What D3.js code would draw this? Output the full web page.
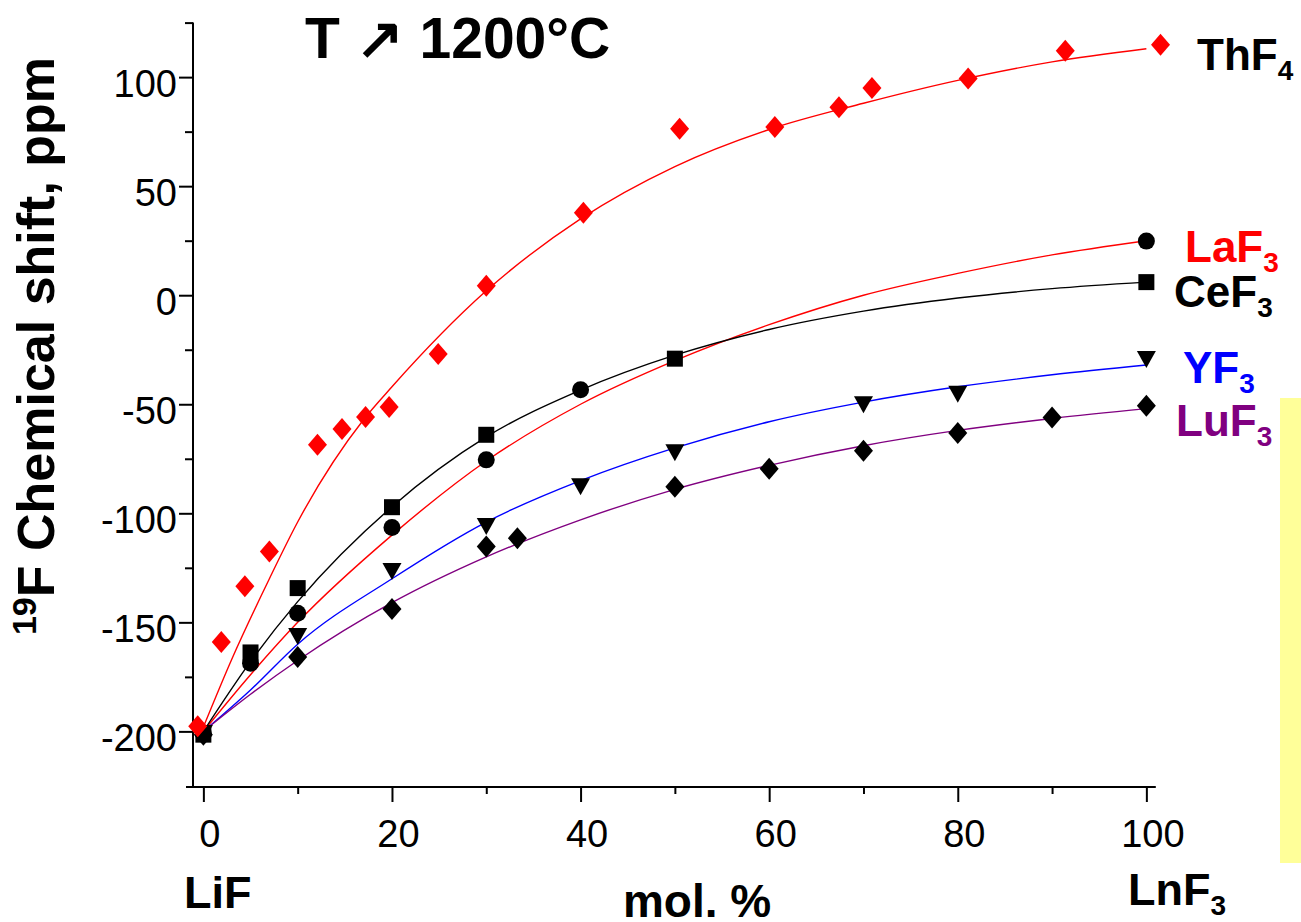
<!DOCTYPE html>
<html>
<head>
<meta charset="utf-8">
<script src="https://cdn.jsdelivr.net/npm/d3@7"></script>
<style>
body { margin: 0; background: #fff; }
svg { display: block; }
</style>
</head>
<body>
<div id="grafica"></div>
<script>
// measured points (x = mol.% LnF3, y = 19F shift in ppm)
var thX = [-0.6, 1.9, 4.4, 7.0, 12.1, 14.7, 17.2, 19.7, 24.9, 30.0, 40.3, 50.5, 60.6, 67.4, 70.9, 81.1, 91.4, 101.5];
var thY = [-197.7, -159, -133.5, -117.5, -68.6, -61.4, -55.9, -51.3, -26.9, 4.3, 37.8, 76.3, 77.1, 86.2, 95.0, 99.4, 112.1, 114.8];
var laX = [0, 5, 10, 20, 30, 40, 100];
var laY = [-201, -168.7, -145.8, -106.5, -75.5, -43.3, 24.8];
var ceX = [0, 5, 10, 20, 30, 50, 100];
var ceY = [-201.5, -163.8, -134.3, -97.2, -64.0, -29.1, 6.0];
var yfX = [0, 10, 20, 30, 40, 50, 70, 80, 100];
var yfY = [-201, -156.5, -126.7, -106, -87.8, -72.2, -50.2, -45.4, -29.5];
var luX = [0, 10, 20, 30, 33.3, 50, 60, 70, 80, 90, 100];
var luY = [-201.5, -165.9, -143.9, -115.2, -111.4, -87.8, -79.6, -71.3, -63.2, -56.1, -50.7];

// fitted curves
var thFitX = [0, 3, 7, 10, 17, 20, 30, 40, 50, 60, 70, 80, 90, 100];
var thFitY = [-198, -167, -130, -104, -57, -42, 2, 35, 59, 76, 88, 98.5, 107, 113];
var fitX = [0, 5, 10, 20, 30, 40, 50, 60, 70, 80, 90, 100];
var laFit = [-200, -174, -150, -110, -76, -50, -30, -13.5, 0, 10, 18.5, 25];
var ceFit = [-200, -168, -140.5, -97, -65, -43.5, -27.5, -15.7, -7.3, -1.3, 3, 6];
var yfFit = [-200, -181, -160, -130, -104, -85, -70, -58, -49, -42, -36.5, -32];
var luFit = [-200, -183, -167.5, -141, -120, -103, -89, -78, -69, -62, -56.5, -52];

var xMajor = [0, 20, 40, 60, 80, 100];
var xMinor = [10, 30, 50, 70, 90];
var yMajor = [-200, -150, -100, -50, 0, 50, 100];
var yMinor = [-175, -125, -75, -25, 25, 75, 125];

var nombres = ['ThF', 'LaF', 'CeF', 'YF', 'LuF'];
var subs = ['4', '3', '3', '3', '3'];

var fuente = "'Liberation Sans', Arial, sans-serif";
var rojo = "#ff0000";
var azul = "#0000ff";
var morado = "#800080";

var svg = d3.select("#grafica")
	.append("svg")
	.attr("width", 1301)
	.attr("height", 922)
	.style("font-family", fuente);

var x = d3.scaleLinear().domain([-1.1, 101]).range([193, 1155.8]);
var y = d3.scaleLinear().domain([-225.5, 125]).range([787, 22.6]);

// pale yellow strip at right
svg.append("rect")
	.attr("x", 1280).attr("y", 398)
	.attr("width", 30).attr("height", 465)
	.attr("fill", "#ffff99");

// axes
var ejeY = svg.append("g").attr("transform", "translate(" + x(-1.1) + ",0)");
ejeY.call(d3.axisLeft(y).tickValues(yMajor).tickSize(14).tickPadding(2).tickFormat(function (d) { return String(d); }));
ejeY.append("g").call(d3.axisLeft(y).tickValues(yMinor).tickSize(8).tickFormat(""));
ejeY.selectAll(".domain").remove();
ejeY.selectAll("line").attr("stroke", "#000").attr("stroke-width", 2);
ejeY.selectAll("text")
	.attr("font-size", 38)
	.attr("font-family", fuente)
	.attr("fill", "#000")
	.attr("dy", "0.5em");

var ejeX = svg.append("g").attr("transform", "translate(0," + y(-225.5) + ")");
ejeX.call(d3.axisBottom(x).tickValues(xMajor).tickSize(15).tickPadding(18).tickFormat(function (d) { return String(d); }));
ejeX.append("g").call(d3.axisBottom(x).tickValues(xMinor).tickSize(7).tickFormat(""));
ejeX.selectAll(".domain").remove();
ejeX.selectAll("line").attr("stroke", "#000").attr("stroke-width", 2);
ejeX.selectAll("text")
	.attr("font-size", 38)
	.attr("font-family", fuente)
	.attr("fill", "#000")
	.attr("dx", 6);

// spines
svg.append("line")
	.attr("x1", x(-1.1)).attr("x2", x(-1.1))
	.attr("y1", y(125)).attr("y2", y(-225.5))
	.attr("stroke", "#000").attr("stroke-width", 2);
svg.append("line")
	.attr("x1", x(-1.1) - 7).attr("x2", x(101))
	.attr("y1", y(-225.5)).attr("y2", y(-225.5))
	.attr("stroke", "#000").attr("stroke-width", 2);

// curves
var linea = d3.line().curve(d3.curveMonotoneX);
function curva(xs, ys, color) {
	svg.append("path")
		.attr("d", linea(xs.map(function (v, i) { return [x(v), y(ys[i])]; })))
		.attr("fill", "none")
		.attr("stroke", color)
		.attr("stroke-width", 1.4);
}
curva(thFitX, thFitY, rojo);
curva(fitX, laFit, rojo);
curva(fitX, ceFit, "#000");
curva(fitX, yfFit, azul);
curva(fitX, luFit, morado);

// marker shapes
var rombo = { draw: function (c) { c.moveTo(0, -11); c.lineTo(9.5, 0); c.lineTo(0, 11); c.lineTo(-9.5, 0); c.closePath(); } };
var circulo = { draw: function (c) { c.moveTo(8.5, 0); c.arc(0, 0, 8.5, 0, 2 * Math.PI); } };
var cuadro = { draw: function (c) { c.rect(-8, -8, 16, 16); } };
var triangulo = { draw: function (c) { c.moveTo(-9.5, -8.5); c.lineTo(9.5, -8.5); c.lineTo(0, 8.5); c.closePath(); } };

function puntos(xs, ys, forma, color) {
	svg.append("g").selectAll("path")
		.data(xs)
		.enter().append("path")
		.attr("transform", function (d, i) { return "translate(" + x(d) + "," + y(ys[i]) + ")"; })
		.attr("d", d3.symbol().type(forma))
		.attr("fill", color);
}
puntos(luX, luY, rombo, "#000");
puntos(yfX, yfY, triangulo, "#000");
puntos(ceX, ceY, cuadro, "#000");
puntos(laX, laY, circulo, "#000");
puntos(thX, thY, rombo, rojo);

// series labels
var etiquetas = [
	{ x: 1197, y: 70, color: "#000" },
	{ x: 1185, y: 262, color: rojo },
	{ x: 1174, y: 307, color: "#000" },
	{ x: 1183, y: 383, color: azul },
	{ x: 1176, y: 436, color: morado }
];
for (var i = 0; i < nombres.length; i++) {
	var t = svg.append("text")
		.attr("x", etiquetas[i].x)
		.attr("y", etiquetas[i].y)
		.attr("font-size", 44)
		.attr("font-weight", "bold")
		.attr("fill", etiquetas[i].color);
	t.append("tspan").text(nombres[i]);
	t.append("tspan").attr("font-size", 28).attr("dy", 10).text(subs[i]);
}

// title
svg.append("text")
	.attr("x", 305).attr("y", 58)
	.attr("font-size", 57)
	.attr("font-weight", "bold")
	.text("T \u2197 1200°C");

// axis titles
var ty = svg.append("text")
	.attr("transform", "translate(54,346) rotate(-90)")
	.attr("text-anchor", "middle")
	.attr("font-size", 52)
	.attr("font-weight", "bold");
ty.append("tspan").attr("font-size", 34).attr("dy", -18).text("19");
ty.append("tspan").attr("dy", 18).text("F Chemical shift, ppm");

svg.append("text")
	.attr("x", 697).attr("y", 917)
	.attr("text-anchor", "middle")
	.attr("font-size", 46)
	.attr("font-weight", "bold")
	.text("mol. %");

svg.append("text")
	.attr("x", 184).attr("y", 908)
	.attr("font-size", 45)
	.attr("font-weight", "bold")
	.text("LiF");

var ln = svg.append("text")
	.attr("x", 1128).attr("y", 905)
	.attr("font-size", 45)
	.attr("font-weight", "bold");
ln.append("tspan").text("LnF");
ln.append("tspan").attr("font-size", 28).attr("dy", 10).text("3");
</script>
</body>
</html>
